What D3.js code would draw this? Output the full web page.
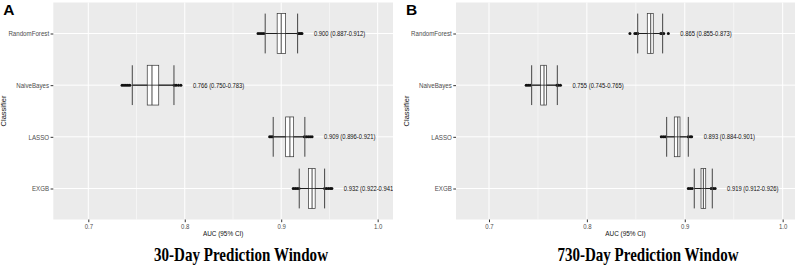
<!DOCTYPE html>
<html>
<head>
  <meta charset="UTF-8">
  <title>AUC by classifier</title>
  <script src="https://d3js.org/d3.v7.min.js"></script>
  <style>
    body { margin: 0; padding: 0; background: #fff; }
    svg { display: block; font-family: "Liberation Sans", Arial, sans-serif; }
    .tick text { fill: #4d4d4d; }
    .tick line { stroke: #333; }
    .title { font-family: "Liberation Serif", "Times New Roman", serif; font-weight: bold; }
  </style>
</head>
<body>
  <div id="chart"></div>
  <script>
    const classifiers = ["RandomForest", "NaiveBayes", "LASSO", "EXGB"];
    const xTicks = [0.7, 0.8, 0.9, 1.0];
    const minorTicks = [0.75, 0.85, 0.95];

    // 30-day window
    const median30 = [0.900, 0.766, 0.909, 0.932];
    const q1_30 = [0.8958, 0.7611, 0.9046, 0.9284];
    const q3_30 = [0.9046, 0.7730, 0.9129, 0.9352];
    const whisker30 = [[0.883, 0.917], [0.745, 0.789], [0.8915, 0.9245], [0.9185, 0.9445]];
    const cap30 = [[0.8834, 0.917], [0.7456, 0.7888], [0.8917, 0.9245], [0.9187, 0.945]];
    const outliers30 = [
      [0.876, 0.878, 0.880, 0.882, 0.9175, 0.919, 0.9205, 0.9215],
      [0.735, 0.737, 0.739, 0.741, 0.743, 0.789, 0.791, 0.7935, 0.796],
      [0.888, 0.8895, 0.891, 0.924, 0.926, 0.928, 0.930, 0.932],
      [0.9125, 0.9145, 0.9165, 0.9185, 0.945, 0.947, 0.949, 0.951, 0.9525]
    ];
    const labels30 = ["0.900 (0.887-0.912)", "0.766 (0.750-0.783)", "0.909 (0.896-0.921)", "0.932 (0.922-0.941)"];

    // 730-day window
    const median730 = [0.8652, 0.7562, 0.8928, 0.919];
    const q1_730 = [0.8617, 0.7528, 0.8893, 0.9166];
    const q3_730 = [0.8678, 0.7589, 0.8951, 0.9214];
    const whisker730 = [[0.853, 0.8745], [0.744, 0.769], [0.8815, 0.902], [0.9097, 0.926]];
    const cap730 = [[0.8519, 0.8774], [0.7436, 0.7698], [0.8815, 0.9036], [0.9097, 0.9281]];
    const outliers730 = [
      [0.844, 0.849, 0.8505, 0.852, 0.8755, 0.877, 0.8785, 0.8832],
      [0.738, 0.740, 0.742, 0.7695, 0.771, 0.773],
      [0.876, 0.878, 0.880, 0.9035, 0.9055, 0.907],
      [0.9036, 0.9055, 0.9075, 0.927, 0.929, 0.931]
    ];
    const labels730 = ["0.865 (0.855-0.873)", "0.755 (0.745-0.765)", "0.893 (0.884-0.901)", "0.919 (0.912-0.926)"];

    const W = 799, H = 266;
    const sx = 0.8; // text in the figure is horizontally squeezed

    const svg = d3.select("#chart").append("svg")
      .attr("width", W).attr("height", H);

    function drawPanel(p) {
      const x = d3.scaleLinear().domain(p.domain).range([p.left, p.right]);
      const y = d3.scalePoint().domain(classifiers).range([p.top, p.bottom]).padding(0.6);
      const half = y.step() * 0.385;
      const g = svg.append("g");

      const clipId = "clip-" + p.id;
      svg.append("clipPath").attr("id", clipId)
        .append("rect")
        .attr("x", p.left).attr("y", p.top)
        .attr("width", p.right - p.left).attr("height", p.bottom - p.top);

      g.append("rect")
        .attr("x", p.left).attr("y", p.top)
        .attr("width", p.right - p.left).attr("height", p.bottom - p.top)
        .attr("fill", "#ebebeb");

      g.selectAll(".minor").data(minorTicks).enter().append("line")
        .attr("x1", d => x(d)).attr("x2", d => x(d))
        .attr("y1", p.top).attr("y2", p.bottom)
        .attr("stroke", "#fff").attr("stroke-width", 0.5);

      g.selectAll(".major").data(xTicks).enter().append("line")
        .attr("x1", d => x(d)).attr("x2", d => x(d))
        .attr("y1", p.top).attr("y2", p.bottom)
        .attr("stroke", "#fff").attr("stroke-width", 1);

      g.selectAll(".hgrid").data(classifiers).enter().append("line")
        .attr("x1", p.left).attr("x2", p.right)
        .attr("y1", d => y(d)).attr("y2", d => y(d))
        .attr("stroke", "#fff").attr("stroke-width", 1);

      const marks = g.append("g").attr("clip-path", `url(#${clipId})`);

      classifiers.forEach((c, i) => {
        const cy = y(c);
        // boxplot whisker
        marks.append("line")
          .attr("x1", x(p.whisker[i][0])).attr("x2", x(p.whisker[i][1]))
          .attr("y1", cy).attr("y2", cy)
          .attr("stroke", "#111").attr("stroke-width", 1);
        // outliers
        marks.selectAll(".out" + i).data(p.outliers[i]).enter().append("circle")
          .attr("cx", d => x(d)).attr("cy", cy).attr("r", 1.5)
          .attr("fill", "#111");
        // box
        marks.append("rect")
          .attr("x", x(p.q1[i])).attr("y", cy - half)
          .attr("width", x(p.q3[i]) - x(p.q1[i])).attr("height", half * 2)
          .attr("fill", "#fff").attr("stroke", "#333").attr("stroke-width", 0.7);
        marks.append("line")
          .attr("x1", x(p.median[i])).attr("x2", x(p.median[i]))
          .attr("y1", cy - half).attr("y2", cy + half)
          .attr("stroke", "#333").attr("stroke-width", 0.9);
        // error bar caps + line
        marks.append("line")
          .attr("x1", x(p.cap[i][0])).attr("x2", x(p.cap[i][1]))
          .attr("y1", cy).attr("y2", cy)
          .attr("stroke", "#222").attr("stroke-width", 0.8);
        p.cap[i].forEach(v => {
          marks.append("line")
            .attr("x1", x(v)).attr("x2", x(v))
            .attr("y1", cy - half).attr("y2", cy + half)
            .attr("stroke", "#444").attr("stroke-width", 1);
        });
        // annotation
        const lx = x(d3.max(p.outliers[i])) + 12;
        marks.append("text")
          .attr("transform", `translate(${lx},${cy}) scale(${sx},1)`)
          .attr("dy", "0.35em")
          .attr("font-size", 7.3)
          .attr("fill", "#111")
          .text(p.labels[i]);
      });

      // axes
      const xAxis = g.append("g")
        .attr("transform", `translate(0,${p.bottom})`)
        .call(d3.axisBottom(x).tickValues(xTicks).tickSize(2.7).tickPadding(1.5)
          .tickFormat(d3.format(".1f")));
      xAxis.select(".domain").remove();
      xAxis.selectAll("text").attr("font-size", 7.5)
        .attr("transform", `scale(${sx},1)`);

      const yAxis = g.append("g")
        .attr("transform", `translate(${p.left},0)`)
        .call(d3.axisLeft(y).tickSize(2.7).tickPadding(2));
      yAxis.select(".domain").remove();
      yAxis.selectAll("text").attr("font-size", 7.7)
        .attr("x", -4.2 / sx)
        .attr("transform", `scale(${sx},1)`);

      g.append("text")
        .attr("transform", `translate(${(p.left + p.right) / 2},236) scale(${sx},1)`)
        .attr("text-anchor", "middle")
        .attr("font-size", 8)
        .attr("fill", "#111")
        .text("AUC (95% CI)");

      g.append("text")
        .attr("transform", `translate(${p.left - 47},${(p.top + p.bottom) / 2}) rotate(-90)`)
        .attr("text-anchor", "middle")
        .attr("font-size", 7.5)
        .attr("fill", "#111")
        .text("Classifier");

      g.append("text")
        .attr("x", p.left - 50).attr("y", 15)
        .attr("font-size", 15.5)
        .attr("font-weight", "bold")
        .attr("fill", "#000")
        .text(p.id);

      g.append("text")
        .attr("class", "title")
        .attr("x", p.titleX).attr("y", 261)
        .attr("text-anchor", "middle")
        .attr("font-size", 19)
        .attr("textLength", p.titleW)
        .attr("lengthAdjust", "spacingAndGlyphs")
        .attr("fill", "#000")
        .text(p.title);
    }

    drawPanel({
      id: "A", left: 53.3, right: 393, top: 2.5, bottom: 219.5,
      domain: [0.6637, 1.0159],
      median: median30, q1: q1_30, q3: q3_30, whisker: whisker30, cap: cap30,
      outliers: outliers30, labels: labels30,
      title: "30-Day Prediction Window", titleX: 241, titleW: 174
    });

    drawPanel({
      id: "B", left: 456, right: 795, top: 2.5, bottom: 219.5,
      domain: [0.6663, 1.0126],
      median: median730, q1: q1_730, q3: q3_730, whisker: whisker730, cap: cap730,
      outliers: outliers730, labels: labels730,
      title: "730-Day Prediction Window", titleX: 648, titleW: 181
    });
  </script>
</body>
</html>
